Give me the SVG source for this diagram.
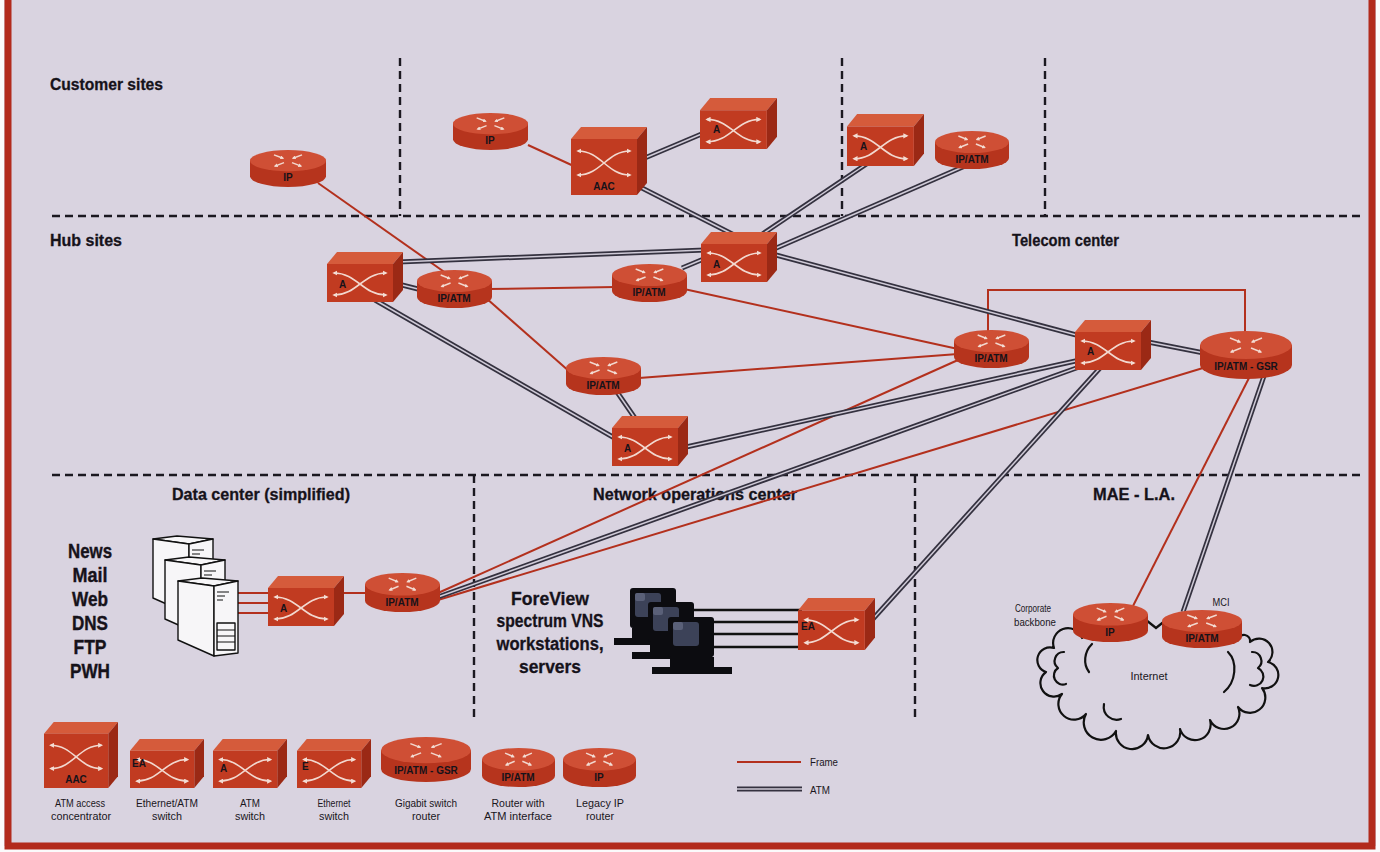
<svg xmlns="http://www.w3.org/2000/svg" width="1380" height="852" viewBox="0 0 1380 852">
<defs>
<style>
.t{font-family:"Liberation Sans",Arial,sans-serif;font-weight:bold;fill:#16121a}
.hd{font-size:17px;stroke:#16121a;stroke-width:0.3}
.svc{font-size:21px;text-anchor:middle;stroke:#16121a;stroke-width:0.4}
.fv{font-size:18px;text-anchor:middle;stroke:#16121a;stroke-width:0.3}
.nl{font-size:10px}
.mid{text-anchor:middle}
.cap{font-family:"Liberation Sans",Arial,sans-serif;font-size:11px;fill:#1a161c;text-anchor:middle}
.dash{fill:none;stroke:#1b1820;stroke-width:2.4;stroke-dasharray:8 5}
.fr{fill:none;stroke:#b3301d;stroke-width:2}
.wire{fill:none;stroke:#111;stroke-width:2.4}
.cloud{fill:none;stroke:#111;stroke-width:2.2;stroke-linejoin:round;stroke-linecap:round}
.srv{fill:#f7f6f8;stroke:#111;stroke-width:1.4;stroke-linejoin:round}
.xa{fill:none;stroke:#f2d8cf;stroke-width:1.6}
.ra{fill:none;stroke:#f2d8cf;stroke-width:1.5}
</style>
<marker id="ah" viewBox="0 0 6 6" refX="4" refY="3" markerWidth="3.2" markerHeight="3.2" orient="auto-start-reverse"><path d="M0,0 L6,3 L0,6 z" fill="#f3dcd3"/></marker>
<marker id="ah2" viewBox="0 0 6 6" refX="4" refY="3" markerWidth="2.6" markerHeight="2.6" orient="auto"><path d="M0,0 L6,3 L0,6 z" fill="#f3dcd3"/></marker>

<!-- switch cube -->
<symbol id="cube" viewBox="0 0 76 50" preserveAspectRatio="none">
  <polygon points="0,12 10,0 76,0 66,12" fill="#d55b3b"/>
  <polygon points="66,12 76,0 76,38 66,50" fill="#9b2915"/>
  <rect x="0" y="12" width="66" height="38" fill="#c13b21"/>
  <path class="xa" d="M7,21 C30,21 36,43 59,43" marker-start="url(#ah)" marker-end="url(#ah)"/>
  <path class="xa" d="M7,43 C30,43 36,21 59,21" marker-start="url(#ah)" marker-end="url(#ah)"/>
</symbol>
<!-- access concentrator (tall cube) -->
<symbol id="aac" viewBox="0 0 76 68" preserveAspectRatio="none">
  <polygon points="0,12 10,0 76,0 66,12" fill="#d55b3b"/>
  <polygon points="66,12 76,0 76,56 66,68" fill="#9b2915"/>
  <rect x="0" y="12" width="66" height="56" fill="#c13b21"/>
  <path class="xa" d="M7,24 C30,24 36,48 59,48" marker-start="url(#ah)" marker-end="url(#ah)"/>
  <path class="xa" d="M7,48 C30,48 36,24 59,24" marker-start="url(#ah)" marker-end="url(#ah)"/>
</symbol>
<!-- router cylinder -->
<symbol id="router" viewBox="0 0 76 38" preserveAspectRatio="none">
  <path d="M0,11 V27 A38,11 0 0 0 76,27 V11 Z" fill="#b6341d"/>
  <ellipse cx="38" cy="11" rx="38" ry="11" fill="#cf4f35"/>
  <g class="ra" marker-end="url(#ah2)">
    <path d="M24,5 L33,8.5"/><path d="M52,5 L43,8.5"/>
    <path d="M34,13 L25,16.5"/><path d="M42,13 L51,16.5"/>
  </g>
</symbol>
<!-- gigabit switch router -->
<symbol id="gsr" viewBox="0 0 92 48" preserveAspectRatio="none">
  <path d="M0,14 V34 A46,14 0 0 0 92,34 V14 Z" fill="#b6341d"/>
  <ellipse cx="46" cy="14" rx="46" ry="14" fill="#cf4f35"/>
  <g class="ra" marker-end="url(#ah2)">
    <path d="M30,7 L40,11"/><path d="M62,7 L52,11"/>
    <path d="M41,17 L31,21"/><path d="M51,17 L61,21"/>
  </g>
</symbol>
<!-- tower server -->
<symbol id="server" viewBox="0 0 62 80">
  <polygon class="srv" points="1,4 25,1 61,4 37,9"/>
  <polygon class="srv" points="1,4 37,9 37,79 1,63"/>
  <polygon class="srv" points="37,9 61,4 61,76 37,79"/>
  <path d="M40,15 H52 M40,19 H48 M40,23 H46" stroke="#111" stroke-width="1.2"/>
  <rect class="srv" x="40" y="46" width="18" height="27"/>
  <path d="M40,53 H58 M40,59 H58 M40,65 H58" stroke="#111" stroke-width="1"/>
</symbol>
<!-- workstation -->
<symbol id="ws" viewBox="0 0 80 58">
  <rect x="16" y="0" width="46" height="40" rx="3" fill="#0c0c10"/>
  <rect x="21" y="5" width="26" height="24" rx="3" fill="#3c4258"/>
  <rect x="21" y="5" width="10" height="8" rx="2" fill="#5a6078"/>
  <rect x="18" y="40" width="44" height="10" fill="#0c0c10"/>
  <rect x="0" y="50" width="80" height="7" fill="#0c0c10"/>
</symbol>
</defs>

<!-- page -->
<rect x="0" y="0" width="1380" height="852" fill="#fbfafb"/>
<rect x="4" y="0" width="1372" height="846" fill="#d9d3e0"/>
<path d="M8,0 V846 H1372 V0" fill="none" stroke="#b22a1c" stroke-width="7"/>

<!-- zone dividers -->
<g id="zones">
  <path class="dash" d="M52,216 H1362"/>
  <path class="dash" d="M400,58 V216"/>
  <path class="dash" d="M842,58 V216"/>
  <path class="dash" d="M1045,58 V216"/>
  <path class="dash" d="M52,475 H1362"/>
  <path class="dash" d="M474,475 V722"/>
  <path class="dash" d="M915,475 V722"/>
</g>

<g id="zone-titles">
  <text class="t hd" x="50" y="90" textLength="113" lengthAdjust="spacingAndGlyphs">Customer sites</text>
  <text class="t hd" x="50" y="246" textLength="72" lengthAdjust="spacingAndGlyphs">Hub sites</text>
  <text class="t hd" x="1012" y="246" textLength="107" lengthAdjust="spacingAndGlyphs">Telecom center</text>
  <text class="t hd" x="172" y="500" textLength="178" lengthAdjust="spacingAndGlyphs">Data center (simplified)</text>
  <text class="t hd" x="593" y="500" textLength="204" lengthAdjust="spacingAndGlyphs">Network operations center</text>
  <text class="t hd" x="1093" y="500" textLength="82" lengthAdjust="spacingAndGlyphs">MAE - L.A.</text>
</g>

<g id="connectors">
  <g id="frame-links" class="fr">
    <path d="M318,183 L450,276"/>
    <path d="M528,145 L578,168"/>
    <path d="M488,289 L616,287"/>
    <path d="M486,298 L570,372"/>
    <path d="M684,289 L958,349"/>
    <path d="M639,378 L958,354"/>
    <path d="M438,593 L958,360"/>
    <path d="M438,600 L1203,368"/>
    <path d="M988,334 V290 H1245 V336"/>
    <path d="M1250,376 L1133,606"/>
    <path d="M236,593 H272 M236,603 H272 M236,613 H272"/>
    <path d="M341,593 H368"/>
    <path d="M737,762 H801"/>
  </g>
  <g id="atm-links" fill="none" stroke="#34313f" stroke-width="5">
    <path id="l1" d="M640,160 L704,133"/>
    <path id="l2" d="M640,187 L740,238"/>
    <path id="l3" d="M868,163 L758,237"/>
    <path id="l4" d="M965,166 L774,249"/>
    <path id="l5" d="M398,262 L705,250"/>
    <path id="l6" d="M398,284 L422,290"/>
    <path id="l7" d="M375,300 L618,440"/>
    <path id="l8" d="M682,268 L706,258"/>
    <path id="l9" d="M617,392 L637,421"/>
    <path id="l10" d="M686,447 L1080,360"/>
    <path id="l11" d="M776,255 L1080,336"/>
    <path id="l12" d="M1148,342 L1204,353"/>
    <path id="l13" d="M438,597 L1082,366"/>
    <path id="l14" d="M1100,368 L872,620"/>
    <path id="l15" d="M1264,376 L1183,612"/>
    <path id="l16" d="M737,789 H802"/>
  </g>
  <g fill="none" stroke="#d0cbd8" stroke-width="1.5">
    <use href="#l1"/><use href="#l2"/><use href="#l3"/><use href="#l4"/>
    <use href="#l5"/><use href="#l6"/><use href="#l7"/><use href="#l8"/>
    <use href="#l9"/><use href="#l10"/><use href="#l11"/><use href="#l12"/>
    <use href="#l13"/><use href="#l14"/><use href="#l15"/><use href="#l16"/>
  </g>
  <g id="lan-links" class="wire">
    <path d="M688,610 H802 M708,622 H802 M708,634 H802 M708,647 H802"/>
    <path d="M1146,620 L1156,628 L1166,620"/>
  </g>
</g>

<!-- customer sites -->
<g id="cust-ip-1"><use href="#router" x="250" y="150" width="76" height="37"/><text class="t nl mid" x="288" y="181">IP</text></g>
<g id="cust-ip-2"><use href="#router" x="453" y="113" width="75" height="37"/><text class="t nl mid" x="490" y="144">IP</text></g>
<g id="cust-aac"><use href="#aac" x="571" y="127" width="76" height="68"/><text class="t nl mid" x="604" y="190">AAC</text></g>
<g id="cust-a-1"><use href="#cube" x="700" y="98" width="77" height="51"/><text class="t nl" x="713" y="133">A</text></g>
<g id="cust-a-2"><use href="#cube" x="847" y="114" width="77" height="52"/><text class="t nl" x="860" y="150">A</text></g>
<g id="cust-ipatm"><use href="#router" x="935" y="131" width="74" height="38"/><text class="t nl mid" x="972" y="163">IP/ATM</text></g>

<!-- hub sites -->
<g id="hub-a-1"><use href="#cube" x="327" y="252" width="76" height="50"/><text class="t nl" x="339" y="288">A</text></g>
<g id="hub-ipatm-1"><use href="#router" x="417" y="270" width="75" height="38"/><text class="t nl mid" x="454" y="302">IP/ATM</text></g>
<g id="hub-a-core"><use href="#cube" x="701" y="232" width="76" height="50"/><text class="t nl" x="713" y="268">A</text></g>
<g id="hub-ipatm-2"><use href="#router" x="612" y="264" width="75" height="38"/><text class="t nl mid" x="649" y="296">IP/ATM</text></g>
<g id="hub-ipatm-3"><use href="#router" x="566" y="357" width="75" height="38"/><text class="t nl mid" x="603" y="389">IP/ATM</text></g>
<g id="hub-a-2"><use href="#cube" x="612" y="416" width="76" height="50"/><text class="t nl" x="624" y="452">A</text></g>

<!-- telecom center -->
<g id="tc-ipatm"><use href="#router" x="954" y="330" width="75" height="38"/><text class="t nl mid" x="991" y="362">IP/ATM</text></g>
<g id="tc-a"><use href="#cube" x="1075" y="320" width="76" height="50"/><text class="t nl" x="1087" y="355">A</text></g>
<g id="tc-gsr"><use href="#gsr" x="1200" y="331" width="92" height="48"/><text class="t nl mid" x="1246" y="370">IP/ATM - GSR</text></g>

<!-- data center -->
<g id="dc-servers">
  <use href="#server" x="152" y="535" width="62" height="80"/>
  <use href="#server" x="164" y="556" width="62" height="80"/>
  <use href="#server" x="177" y="577" width="62" height="80"/>
</g>
<g id="dc-services">
  <text class="t svc" x="90" y="558" textLength="44" lengthAdjust="spacingAndGlyphs">News</text>
  <text class="t svc" x="90" y="582" textLength="35" lengthAdjust="spacingAndGlyphs">Mail</text>
  <text class="t svc" x="90" y="606" textLength="36" lengthAdjust="spacingAndGlyphs">Web</text>
  <text class="t svc" x="90" y="630" textLength="36" lengthAdjust="spacingAndGlyphs">DNS</text>
  <text class="t svc" x="90" y="654" textLength="33" lengthAdjust="spacingAndGlyphs">FTP</text>
  <text class="t svc" x="90" y="678" textLength="40" lengthAdjust="spacingAndGlyphs">PWH</text>
</g>
<g id="dc-a"><use href="#cube" x="268" y="576" width="76" height="50"/><text class="t nl" x="280" y="612">A</text></g>
<g id="dc-ipatm"><use href="#router" x="365" y="573" width="75" height="39"/><text class="t nl mid" x="402" y="606">IP/ATM</text></g>

<!-- network operations center -->
<g id="noc-text">
  <text class="t fv" x="550" y="605" textLength="78" lengthAdjust="spacingAndGlyphs">ForeView</text>
  <text class="t fv" x="550" y="627" textLength="107" lengthAdjust="spacingAndGlyphs">spectrum VNS</text>
  <text class="t fv" x="550" y="650" textLength="107" lengthAdjust="spacingAndGlyphs">workstations,</text>
  <text class="t fv" x="550" y="673" textLength="62" lengthAdjust="spacingAndGlyphs">servers</text>
</g>
<g id="noc-workstations">
  <use href="#ws" x="614" y="588" width="80" height="58"/>
  <use href="#ws" x="632" y="602" width="80" height="58"/>
  <use href="#ws" x="652" y="617" width="80" height="58"/>
</g>
<g id="noc-ea"><use href="#cube" x="798" y="598" width="77" height="52"/><text class="t nl" x="801" y="630">EA</text></g>

<!-- MAE - L.A. -->
<g id="mae-internet">
  <path class="cloud" d="M1082,638 A1,1 0 0 0 1054,648 A1,1 0 0 0 1046,672 A1,1 0 0 0 1062,694 A1,1 0 0 0 1086,714 A1,1 0 0 0 1116,731 A1,1 0 0 0 1148,735 A1,1 0 0 0 1180,729 A1,1 0 0 0 1210,720 A1,1 0 0 0 1238,707 A1,1 0 0 0 1262,688 A1,1 0 0 0 1268,662 A1,1 0 0 0 1250,642 A1,1 0 0 0 1238,640"/>
  <path class="cloud" d="M1064,652 A9,9 0 0 0 1058,668 A9,9 0 0 0 1066,684"/>
  <path class="cloud" d="M1252,652 A9,9 0 0 1 1258,668 A9,9 0 0 1 1250,685"/>
  <path class="cloud" d="M1092,644 C1084,652 1083,664 1089,672"/>
  <path class="cloud" d="M1228,652 C1238,662 1236,682 1224,692"/>
  <path class="cloud" d="M1104,704 C1102,715 1112,722 1121,719"/>
  <text class="cap" x="1149" y="680" textLength="37" lengthAdjust="spacingAndGlyphs">Internet</text>
</g>
<g id="mae-ip"><use href="#router" x="1073" y="603" width="75" height="39"/><text class="t nl mid" x="1110" y="636">IP</text></g>
<g id="mae-ipatm"><use href="#router" x="1162" y="610" width="80" height="38"/><text class="t nl mid" x="1202" y="642">IP/ATM</text></g>
<g id="mae-labels">
  <text class="cap" x="1033" y="612" textLength="36" lengthAdjust="spacingAndGlyphs">Corporate</text>
  <text class="cap" x="1035" y="626" textLength="42" lengthAdjust="spacingAndGlyphs">backbone</text>
  <text class="cap" x="1221" y="606" textLength="17" lengthAdjust="spacingAndGlyphs">MCI</text>
</g>

<!-- legend -->
<g id="legend">
  <g id="key-aac"><use href="#aac" x="44" y="722" width="74" height="66"/><text class="t nl mid" x="76" y="783">AAC</text>
    <text class="cap" x="80" y="807" textLength="50" lengthAdjust="spacingAndGlyphs">ATM access</text>
    <text class="cap" x="81" y="820" textLength="60" lengthAdjust="spacingAndGlyphs">concentrator</text></g>
  <g id="key-ea"><use href="#cube" x="130" y="739" width="74" height="49"/><text class="t nl" x="132" y="767">EA</text>
    <text class="cap" x="167" y="807" textLength="62" lengthAdjust="spacingAndGlyphs">Ethernet/ATM</text>
    <text class="cap" x="167" y="820" textLength="30" lengthAdjust="spacingAndGlyphs">switch</text></g>
  <g id="key-a"><use href="#cube" x="213" y="739" width="74" height="49"/><text class="t nl" x="220" y="772">A</text>
    <text class="cap" x="250" y="807" textLength="20" lengthAdjust="spacingAndGlyphs">ATM</text>
    <text class="cap" x="250" y="820" textLength="30" lengthAdjust="spacingAndGlyphs">switch</text></g>
  <g id="key-e"><use href="#cube" x="297" y="739" width="74" height="49"/><text class="t nl" x="302" y="770">E</text>
    <text class="cap" x="334" y="807" textLength="33" lengthAdjust="spacingAndGlyphs">Ethernet</text>
    <text class="cap" x="334" y="820" textLength="30" lengthAdjust="spacingAndGlyphs">switch</text></g>
  <g id="key-gsr"><use href="#gsr" x="381" y="737" width="90" height="45"/><text class="t nl mid" x="426" y="774">IP/ATM - GSR</text>
    <text class="cap" x="426" y="807" textLength="62" lengthAdjust="spacingAndGlyphs">Gigabit switch</text>
    <text class="cap" x="426" y="820" textLength="28" lengthAdjust="spacingAndGlyphs">router</text></g>
  <g id="key-ipatm"><use href="#router" x="482" y="748" width="73" height="39"/><text class="t nl mid" x="518" y="781">IP/ATM</text>
    <text class="cap" x="518" y="807" textLength="53" lengthAdjust="spacingAndGlyphs">Router with</text>
    <text class="cap" x="518" y="820" textLength="68" lengthAdjust="spacingAndGlyphs">ATM interface</text></g>
  <g id="key-ip"><use href="#router" x="563" y="748" width="73" height="39"/><text class="t nl mid" x="599" y="781">IP</text>
    <text class="cap" x="600" y="807" textLength="48" lengthAdjust="spacingAndGlyphs">Legacy IP</text>
    <text class="cap" x="600" y="820" textLength="28" lengthAdjust="spacingAndGlyphs">router</text></g>
  <text class="cap" x="810" y="766" textLength="28" lengthAdjust="spacingAndGlyphs" style="text-anchor:start">Frame</text>
  <text class="cap" x="810" y="794" textLength="20" lengthAdjust="spacingAndGlyphs" style="text-anchor:start">ATM</text>
</g>
</svg>
